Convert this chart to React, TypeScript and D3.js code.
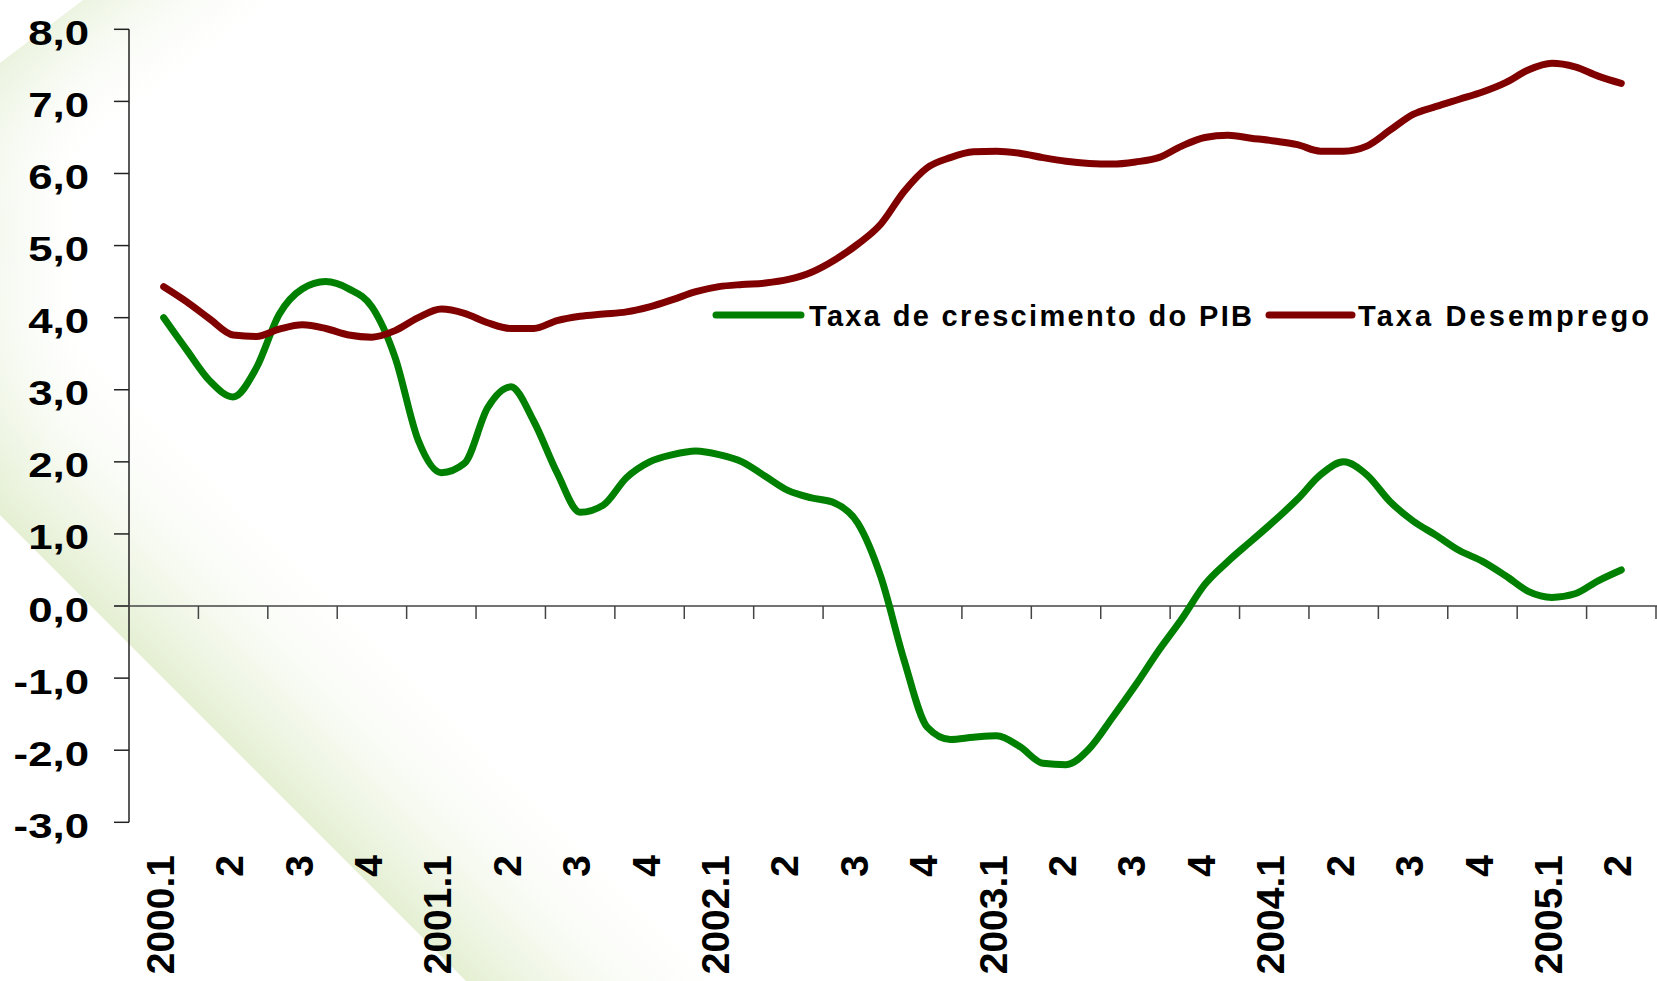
import React, { useEffect } from "react";
import * as d3 from "d3";

// quarter labels on the x axis
const quarters = [
  "2000.1", "2", "3", "4",
  "2001.1", "2", "3", "4",
  "2002.1", "2", "3", "4",
  "2003.1", "2", "3", "4",
  "2004.1", "2", "3", "4",
  "2005.1", "2",
];

const yTicks = [8, 7, 6, 5, 4, 3, 2, 1, 0, -1, -2, -3];

// monthly points, from the middle of 2000.1 to the middle of 2005.2
const pibGrowth = [
  4.0, 3.55, 3.12, 2.9, 3.3, 4.05, 4.4, 4.5, 4.4, 4.15,
  3.45, 2.3, 1.85, 1.98, 2.75, 3.04, 2.56, 1.85, 1.3, 1.4,
  1.78, 2.0, 2.1, 2.15, 2.1, 2.0, 1.8, 1.6, 1.5, 1.43,
  1.15, 0.4, -0.75, -1.68, -1.85, -1.82, -1.8, -1.95, -2.18, -2.2,
  -1.98, -1.55, -1.1, -0.62, -0.18, 0.3, 0.62, 0.9, 1.18, 1.48,
  1.82, 2.0, 1.82, 1.45, 1.18, 0.98, 0.77, 0.62, 0.42, 0.2,
  0.12, 0.17, 0.35, 0.5,
];

const unemployment = [
  4.43, 4.22, 3.98, 3.76, 3.74, 3.84, 3.9, 3.85, 3.76, 3.73,
  3.82, 4.0, 4.12, 4.06, 3.93, 3.85, 3.85, 3.96, 4.02, 4.05,
  4.08, 4.15, 4.25, 4.36, 4.43, 4.46, 4.48, 4.53, 4.63, 4.8,
  5.02, 5.3, 5.75, 6.08, 6.22, 6.3, 6.31, 6.28, 6.22, 6.17,
  6.14, 6.13, 6.16, 6.22, 6.38, 6.5, 6.53, 6.49, 6.45, 6.4,
  6.31, 6.31, 6.38, 6.6, 6.82, 6.93, 7.03, 7.13, 7.26, 7.44,
  7.53, 7.48, 7.35, 7.25,
];

const seriesNames = ["Taxa de crescimento do PIB", "Taxa Desemprego"];
const colors = ["#008000", "#800000"];

const W = 1657;
const H = 981;
const font = "'Liberation Sans', Arial, sans-serif";

export default function App() {
  useEffect(() => {
    document.body.style.margin = "0";
  }, []);

  const x = d3.scaleBand().domain(quarters.map((q, i) => String(i))).range([129, 1656]);
  const y = d3.scaleLinear().domain([-3, 8]).range([822.3, 29.3]);
  const bw = x.bandwidth();
  const xm = d3
    .scaleLinear()
    .domain([0, quarters.length - 1])
    .range([x("0") + bw / 2, x(String(quarters.length - 1)) + bw / 2]);

  const line = d3
    .line<number>()
    .x((d, i) => xm(i / 3))
    .y((d) => y(d))
    .curve(d3.curveMonotoneX);

  const fmt = (v: number) => d3.format(".1f")(v).replace(".", ",").replace("−", "-");
  const y0 = y(0);

  return (
    <svg width={W} height={H} style={{ position: "absolute", left: 0, top: 0, background: "#fff" }}>
      <defs>
        <linearGradient id="bandLow" gradientUnits="userSpaceOnUse" x1="0" y1="515" x2="140" y2="375">
          <stop offset="0" stopColor="#e4efd2" stopOpacity="1" />
          <stop offset="0.35" stopColor="#eef5e3" stopOpacity="0.7" />
          <stop offset="1" stopColor="#ffffff" stopOpacity="0" />
        </linearGradient>
        <linearGradient id="bandTop" gradientUnits="userSpaceOnUse" x1="0" y1="63" x2="80" y2="170">
          <stop offset="0" stopColor="#e9f2dc" stopOpacity="0.85" />
          <stop offset="1" stopColor="#ffffff" stopOpacity="0" />
        </linearGradient>
        <linearGradient id="edgeLeft" gradientUnits="userSpaceOnUse" x1="0" y1="0" x2="90" y2="0">
          <stop offset="0" stopColor="#f0f6e8" stopOpacity="0.7" />
          <stop offset="1" stopColor="#ffffff" stopOpacity="0" />
        </linearGradient>
      </defs>

      {/* template background */}
      <polygon points="0,63 83,0 300,0 0,515" fill="url(#edgeLeft)" />
      <polygon points="0,515 466,981 1000,981 0,0" fill="url(#bandLow)" />
      <polygon points="0,63 83,0 400,0 0,400" fill="url(#bandTop)" />

      {/* y axis */}
      <line x1={129} x2={129} y1={y(8)} y2={y(-3)} stroke="#222" strokeWidth={1.5} />
      {yTicks.map((t) => (
        <g key={t}>
          <line x1={114} x2={129} y1={y(t)} y2={y(t)} stroke="#222" strokeWidth={1.5} />
          <text
            transform={`translate(89,${y(t) + 15.5}) scale(1.25,1)`}
            textAnchor="end"
            fontFamily={font}
            fontWeight="bold"
            fontSize={35}
            fill="#000"
          >
            {fmt(t)}
          </text>
        </g>
      ))}

      {/* x axis on zero */}
      <line x1={114} x2={W} y1={y0} y2={y0} stroke="#444" strokeWidth={1.5} />
      {quarters.map((q, i) => (
        <g key={i}>
          <line
            x1={x(String(i)) + bw}
            x2={x(String(i)) + bw}
            y1={y0}
            y2={y0 + 13}
            stroke="#444"
            strokeWidth={1.5}
          />
          <text
            transform={`translate(${x(String(i)) + bw / 2 - 4},855) rotate(-90)`}
            textAnchor="end"
            dy="0.36em"
            fontFamily={font}
            fontWeight="bold"
            fontSize={39}
            fill="#000"
          >
            {q}
          </text>
        </g>
      ))}

      {/* series */}
      {[pibGrowth, unemployment].map((s, k) => (
        <path
          key={k}
          d={line(s) || ""}
          fill="none"
          stroke={colors[k]}
          strokeWidth={7}
          strokeLinejoin="round"
          strokeLinecap="round"
        />
      ))}

      {/* legend */}
      <line x1={716} x2={801} y1={315} y2={315} stroke={colors[0]} strokeWidth={7} strokeLinecap="round" />
      <text x={809} y={326} fontFamily={font} fontWeight="bold" fontSize={29} textLength={443} lengthAdjust="spacing">
        {seriesNames[0]}
      </text>
      <line x1={1269} x2={1352} y1={315} y2={315} stroke={colors[1]} strokeWidth={7} strokeLinecap="round" />
      <text x={1358} y={326} fontFamily={font} fontWeight="bold" fontSize={29} textLength={291} lengthAdjust="spacing">
        {seriesNames[1]}
      </text>
    </svg>
  );
}
